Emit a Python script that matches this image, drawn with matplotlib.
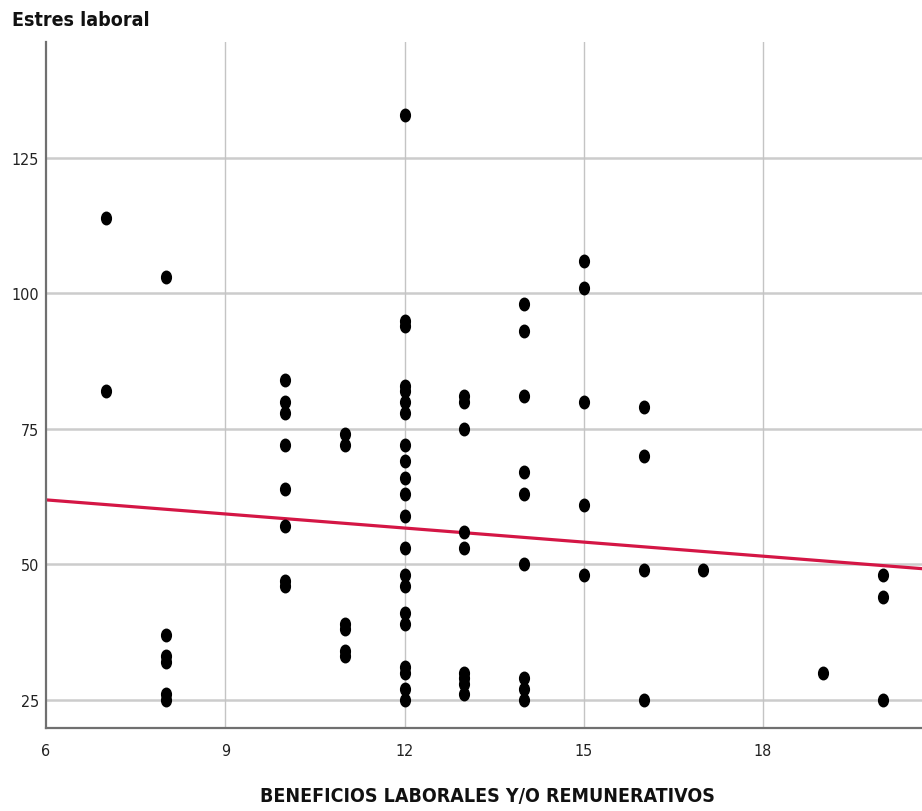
import numpy as np
import matplotlib
matplotlib.use('Agg')
import matplotlib.pyplot as plt
import matplotlib.font_manager as fm
from matplotlib.path import Path
from matplotlib.transforms import Affine2D

# data, grouped by x value
beneficios = ([7] * 2 + [8] * 6 + [10] * 8 + [11] * 6 + [12] * 21 + [13] * 9
              + [14] * 9 + [15] * 5 + [16] * 4 + [17] * 1 + [19] * 1 + [20] * 3)
estres = [114, 82,
          103, 37, 33, 32, 26, 25,
          84, 80, 78, 72, 64, 57, 47, 46,
          74, 72, 39, 38, 34, 33,
          133, 95, 94, 83, 82, 80, 78, 72, 69, 66, 63, 59, 53, 48, 46, 41, 39, 31, 30, 27, 25,
          81, 80, 75, 56, 53, 30, 29, 28, 26,
          98, 93, 81, 67, 63, 50, 29, 27, 25,
          106, 101, 80, 61, 48,
          79, 70, 49, 25,
          49,
          30,
          48, 44, 25]

# fit line as it appears in the chart
fit_intercept = 67.1
fit_slope = -0.866

x_ticks = [6, 9, 12, 15, 18]
y_ticks = [25, 50, 75, 100, 125]

# the original text is narrow: use a narrow face if one is installed
names = {f.name for f in fm.fontManager.ttflist}
dv_cond = any(f.name == 'DejaVu Sans' and 'condensed' in str(f.stretch).lower()
              for f in fm.fontManager.ttflist)
stretch = 'normal'
if 'Liberation Sans Narrow' in names:
    plt.rcParams['font.family'] = ['Liberation Sans Narrow', 'DejaVu Sans']
    big, small = 16, 12.5
elif dv_cond:
    plt.rcParams['font.family'] = ['DejaVu Sans']
    stretch = 'condensed'
    big, small = 14, 11.5
else:
    plt.rcParams['font.family'] = ['Liberation Sans', 'DejaVu Sans']
    big, small = 13.5, 11
plt.rcParams['font.stretch'] = stretch

fig = plt.figure(figsize=(9.22, 8.12), dpi=100)
fig.set_facecolor('white')
ax = fig.add_axes([0.0499, 0.1022, 0.9501, 0.8448])

ax.set_xlim(6, 20.66)
ax.set_ylim(19.8, 146.4)

# grid
for y in y_ticks:
    ax.axhline(y, color='#cccccc', lw=1.8, zorder=1)
for x in x_ticks[1:]:
    ax.axvline(x, color='#c4c4c4', lw=1.0, zorder=1)

# elliptic markers (the original is squeezed horizontally)
ell = Path.unit_circle().transformed(Affine2D().scale(0.78, 1.0))
ax.plot(beneficios, estres, ls='none', marker=ell, markersize=9,
        color='black', zorder=3)

xs = np.array([6, 20.66])
ax.plot(xs, fit_intercept + fit_slope * xs, color='#d41645', lw=2.3, zorder=2)

ax.set_xticks(x_ticks)
ax.set_yticks(y_ticks)
ax.set_xticklabels([str(v) for v in x_ticks])
ax.set_yticklabels([str(v) for v in y_ticks])
ax.tick_params(length=0, labelsize=small, colors='#222222')
ax.tick_params(axis='x', pad=11)
ax.tick_params(axis='y', pad=5)

for s in ['top', 'right']:
    ax.spines[s].set_visible(False)
for s in ['left', 'bottom']:
    ax.spines[s].set_color('#707070')
    ax.spines[s].set_linewidth(1.6)

fig.text(0.013, 0.987, 'Estres laboral', fontsize=big, fontweight='bold',
         ha='left', va='top', color='#111111')
fig.text(0.529, 0.008, 'BENEFICIOS LABORALES Y/O REMUNERATIVOS', fontsize=big,
         fontweight='bold', ha='center', va='bottom', color='#111111')

fig.savefig('out.png', dpi=100, facecolor='white')
